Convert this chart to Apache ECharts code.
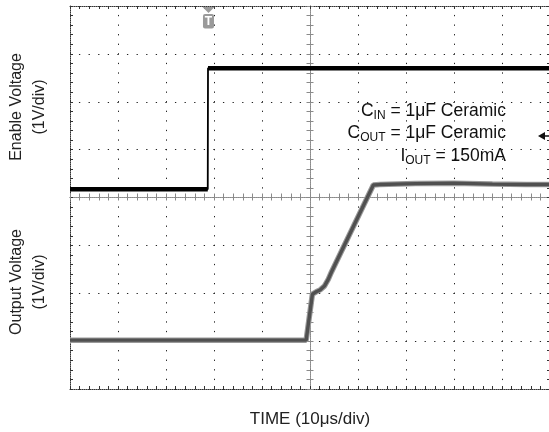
<!DOCTYPE html>
<html><head><meta charset="utf-8">
<script src="https://cdn.jsdelivr.net/npm/echarts/dist/echarts.min.js"></script>
<style>html,body{margin:0;padding:0;background:#fff}#c{width:549px;height:432px}</style>
</head><body><div id="c"></div>
<script>
// ---- scope settings ----
const timeMin = 0, timeMax = 100, timeStep = 10;     // µs, 10 µs/div
const divMin = 0, divMax = 8, divStep = 1;           // 1 V/div
const enableGroundDiv = 4.17;                        // channel ground positions (div)
const outputGroundDiv = 1.02;
const triggerTime = 28.85;

// ---- traces (time in µs, voltage in V) ----
const enableTime = [0, 28.7, 28.75, 100];
const enableVolt = [0, 0, 2.53, 2.53];

const outputTime = [0, 49.2, 50.5, 51.3, 52.1, 53.0, 53.8, 54.5, 63.2, 64.5, 72, 80, 88, 95, 100];
const outputVolt = [0, 0, 0.96, 1.01, 1.05, 1.13, 1.27, 1.43, 3.24, 3.25, 3.27, 3.28, 3.26, 3.25, 3.25];

// ---- labels ----
const xTitle = 'TIME (10\u03BCs/div)';
const yTitleTop = 'Enable Voltage\n(1V/div)';
const yTitleBottom = 'Output Voltage\n(1V/div)';
const noteLines = [
  ['C', 'IN', ' = 1\u03BCF Ceramic'],
  ['C', 'OUT', ' = 1\u03BCF Ceramic'],
  ['I', 'OUT', ' = 150mA']
];

const FONT = '"Liberation Sans", Arial, Helvetica, sans-serif';
const enablePts = enableTime.map((t, i) => [t, enableGroundDiv + enableVolt[i]]);
const outputPts = outputTime.map((t, i) => [t, outputGroundDiv + outputVolt[i]]);
// level segments only (break at vertical edges)
const enableLevels = [];
enablePts.forEach((p, i) => {
  if (i > 0 && p[0] - enablePts[i - 1][0] < 0.2) enableLevels.push([p[0], '-']);
  enableLevels.push(p);
});

const chart = echarts.init(document.getElementById('c'), null, {renderer: 'canvas'});

const dotsV = [1.3, 9.575 - 1.3];
const dotsH = [1.3, 9.6 - 1.3];
const frameLine = {show: true, onZero: false, lineStyle: {color: '#333', width: 1, type: [1, 1]}};
const centerLine = {show: true, onZero: false, lineStyle: {color: '#8a8a8a', width: 1, type: [1, 1]}};

function xAx(extra) {
  return Object.assign({
    type: 'value', min: timeMin, max: timeMax, interval: timeStep,
    axisLabel: {show: false}, splitLine: {show: false}
  }, extra);
}
function yAx(extra) {
  return Object.assign({
    type: 'value', min: divMin, max: divMax, interval: divStep,
    axisLabel: {show: false}, splitLine: {show: false}
  }, extra);
}
const tickDark = (inside) => ({show: true, inside: inside, length: 3, lineStyle: {color: '#333'}});
const minorDark = {show: true, splitNumber: 5, length: 3, lineStyle: {color: '#333'}};
const tickGray = (inside) => ({show: true, inside: inside, length: 3.5, lineStyle: {color: '#8a8a8a'}});
const minorGray = {show: true, splitNumber: 5, length: 3.5, lineStyle: {color: '#8a8a8a'}};

chart.setOption({
  animation: false,
  backgroundColor: '#fff',
  grid: {left: 70, top: 6, width: 480, height: 383, containLabel: false, outerBoundsMode: 'none'},
  xAxis: [
    xAx({position: 'bottom', axisLine: frameLine, axisTick: tickDark(true), minorTick: minorDark,
         splitLine: {show: true, lineStyle: {color: '#222', width: 1, type: dotsV, dashOffset: 0.65}}}),
    xAx({position: 'top', axisLine: frameLine, axisTick: tickDark(true), minorTick: minorDark}),
    xAx({position: 'bottom', offset: -192, axisLine: centerLine, axisTick: tickGray(true), minorTick: minorGray}),
    xAx({position: 'bottom', offset: -192, axisLine: centerLine, axisTick: tickGray(false), minorTick: minorGray})
  ],
  yAxis: [
    yAx({position: 'left', axisLine: frameLine, axisTick: tickDark(true), minorTick: minorDark,
         splitLine: {show: true, lineStyle: {color: '#222', width: 1, type: dotsH, dashOffset: 0.65}}}),
    yAx({position: 'right', axisLine: frameLine, axisTick: tickDark(true), minorTick: minorDark}),
    yAx({position: 'left', offset: -240, axisLine: centerLine, axisTick: tickGray(true), minorTick: minorGray}),
    yAx({position: 'left', offset: -240, axisLine: centerLine, axisTick: tickGray(false), minorTick: minorGray})
  ],
  series: [
    {type: 'line', data: outputPts, showSymbol: false, symbol: 'none', z: 3,
     lineStyle: {color: '#9a9a9a', width: 5.5}},
    {type: 'line', data: outputPts, showSymbol: false, symbol: 'none', z: 4,
     lineStyle: {color: '#505050', width: 3.4}},
    {type: 'line', data: enablePts, showSymbol: false, symbol: 'none', z: 5,
     lineStyle: {color: '#000', width: 1.8}},
    {type: 'line', data: enableLevels, showSymbol: false, symbol: 'none', z: 5, connectNulls: false,
     lineStyle: {color: '#000', width: 4.5}}
  ]
});

// trigger marker placed through the axis scale
const tp = chart.convertToPixel({xAxisIndex: 0, yAxisIndex: 0}, [triggerTime, divMax]);
const tx = tp[0], ty = tp[1];

chart.setOption({
  graphic: [
    {type: 'text', x: 28.5, y: 107, rotation: Math.PI / 2,
     style: {text: yTitleTop, font: '16px ' + FONT, fill: '#222', align: 'center', verticalAlign: 'middle', lineHeight: 23}},
    {type: 'text', x: 28.5, y: 282, rotation: Math.PI / 2,
     style: {text: yTitleBottom, font: '16px ' + FONT, fill: '#222', align: 'center', verticalAlign: 'middle', lineHeight: 23}},
    {type: 'text', x: 310, y: 419,
     style: {text: xTitle, font: '17px ' + FONT, fill: '#222', align: 'center', verticalAlign: 'middle'}},
    ...noteLines.map((ln, i) => ({
      type: 'text', x: 506, y: 111 + i * 22.5, z: 10,
      style: {
        text: '{m|' + ln[0] + '}{s|' + ln[1] + '}{m|' + ln[2] + '}',
        align: 'right', verticalAlign: 'middle', fill: '#111',
        rich: {
          m: {fontSize: 17.5, fontFamily: FONT, fill: '#111', lineHeight: 22},
          s: {fontSize: 12, fontFamily: FONT, fill: '#111', padding: [9, 0, 0, 0], lineHeight: 14}
        }
      }
    })),
    {type: 'polygon', z: 10, shape: {points: [[538, 136], [545, 132], [545, 140]]}, style: {fill: '#111'}},
    {type: 'line', z: 10, shape: {x1: 544, y1: 136, x2: 549, y2: 136}, style: {stroke: '#111', lineWidth: 1.5}},
    {type: 'polygon', z: 10, shape: {points: [[tx - 6, ty + 1], [tx + 6, ty + 1], [tx, ty + 7]]}, style: {fill: '#9a9a9a'}},
    {type: 'rect', z: 10, shape: {x: tx - 5.5, y: ty + 8, width: 11, height: 14.5, r: 2}, style: {fill: '#9a9a9a'}},
    {type: 'text', z: 11, x: tx, y: ty + 15.5,
     style: {text: 'T', font: 'bold 12px ' + FONT, fill: '#fff', align: 'center', verticalAlign: 'middle'}}
  ]
});
</script>
</body></html>
